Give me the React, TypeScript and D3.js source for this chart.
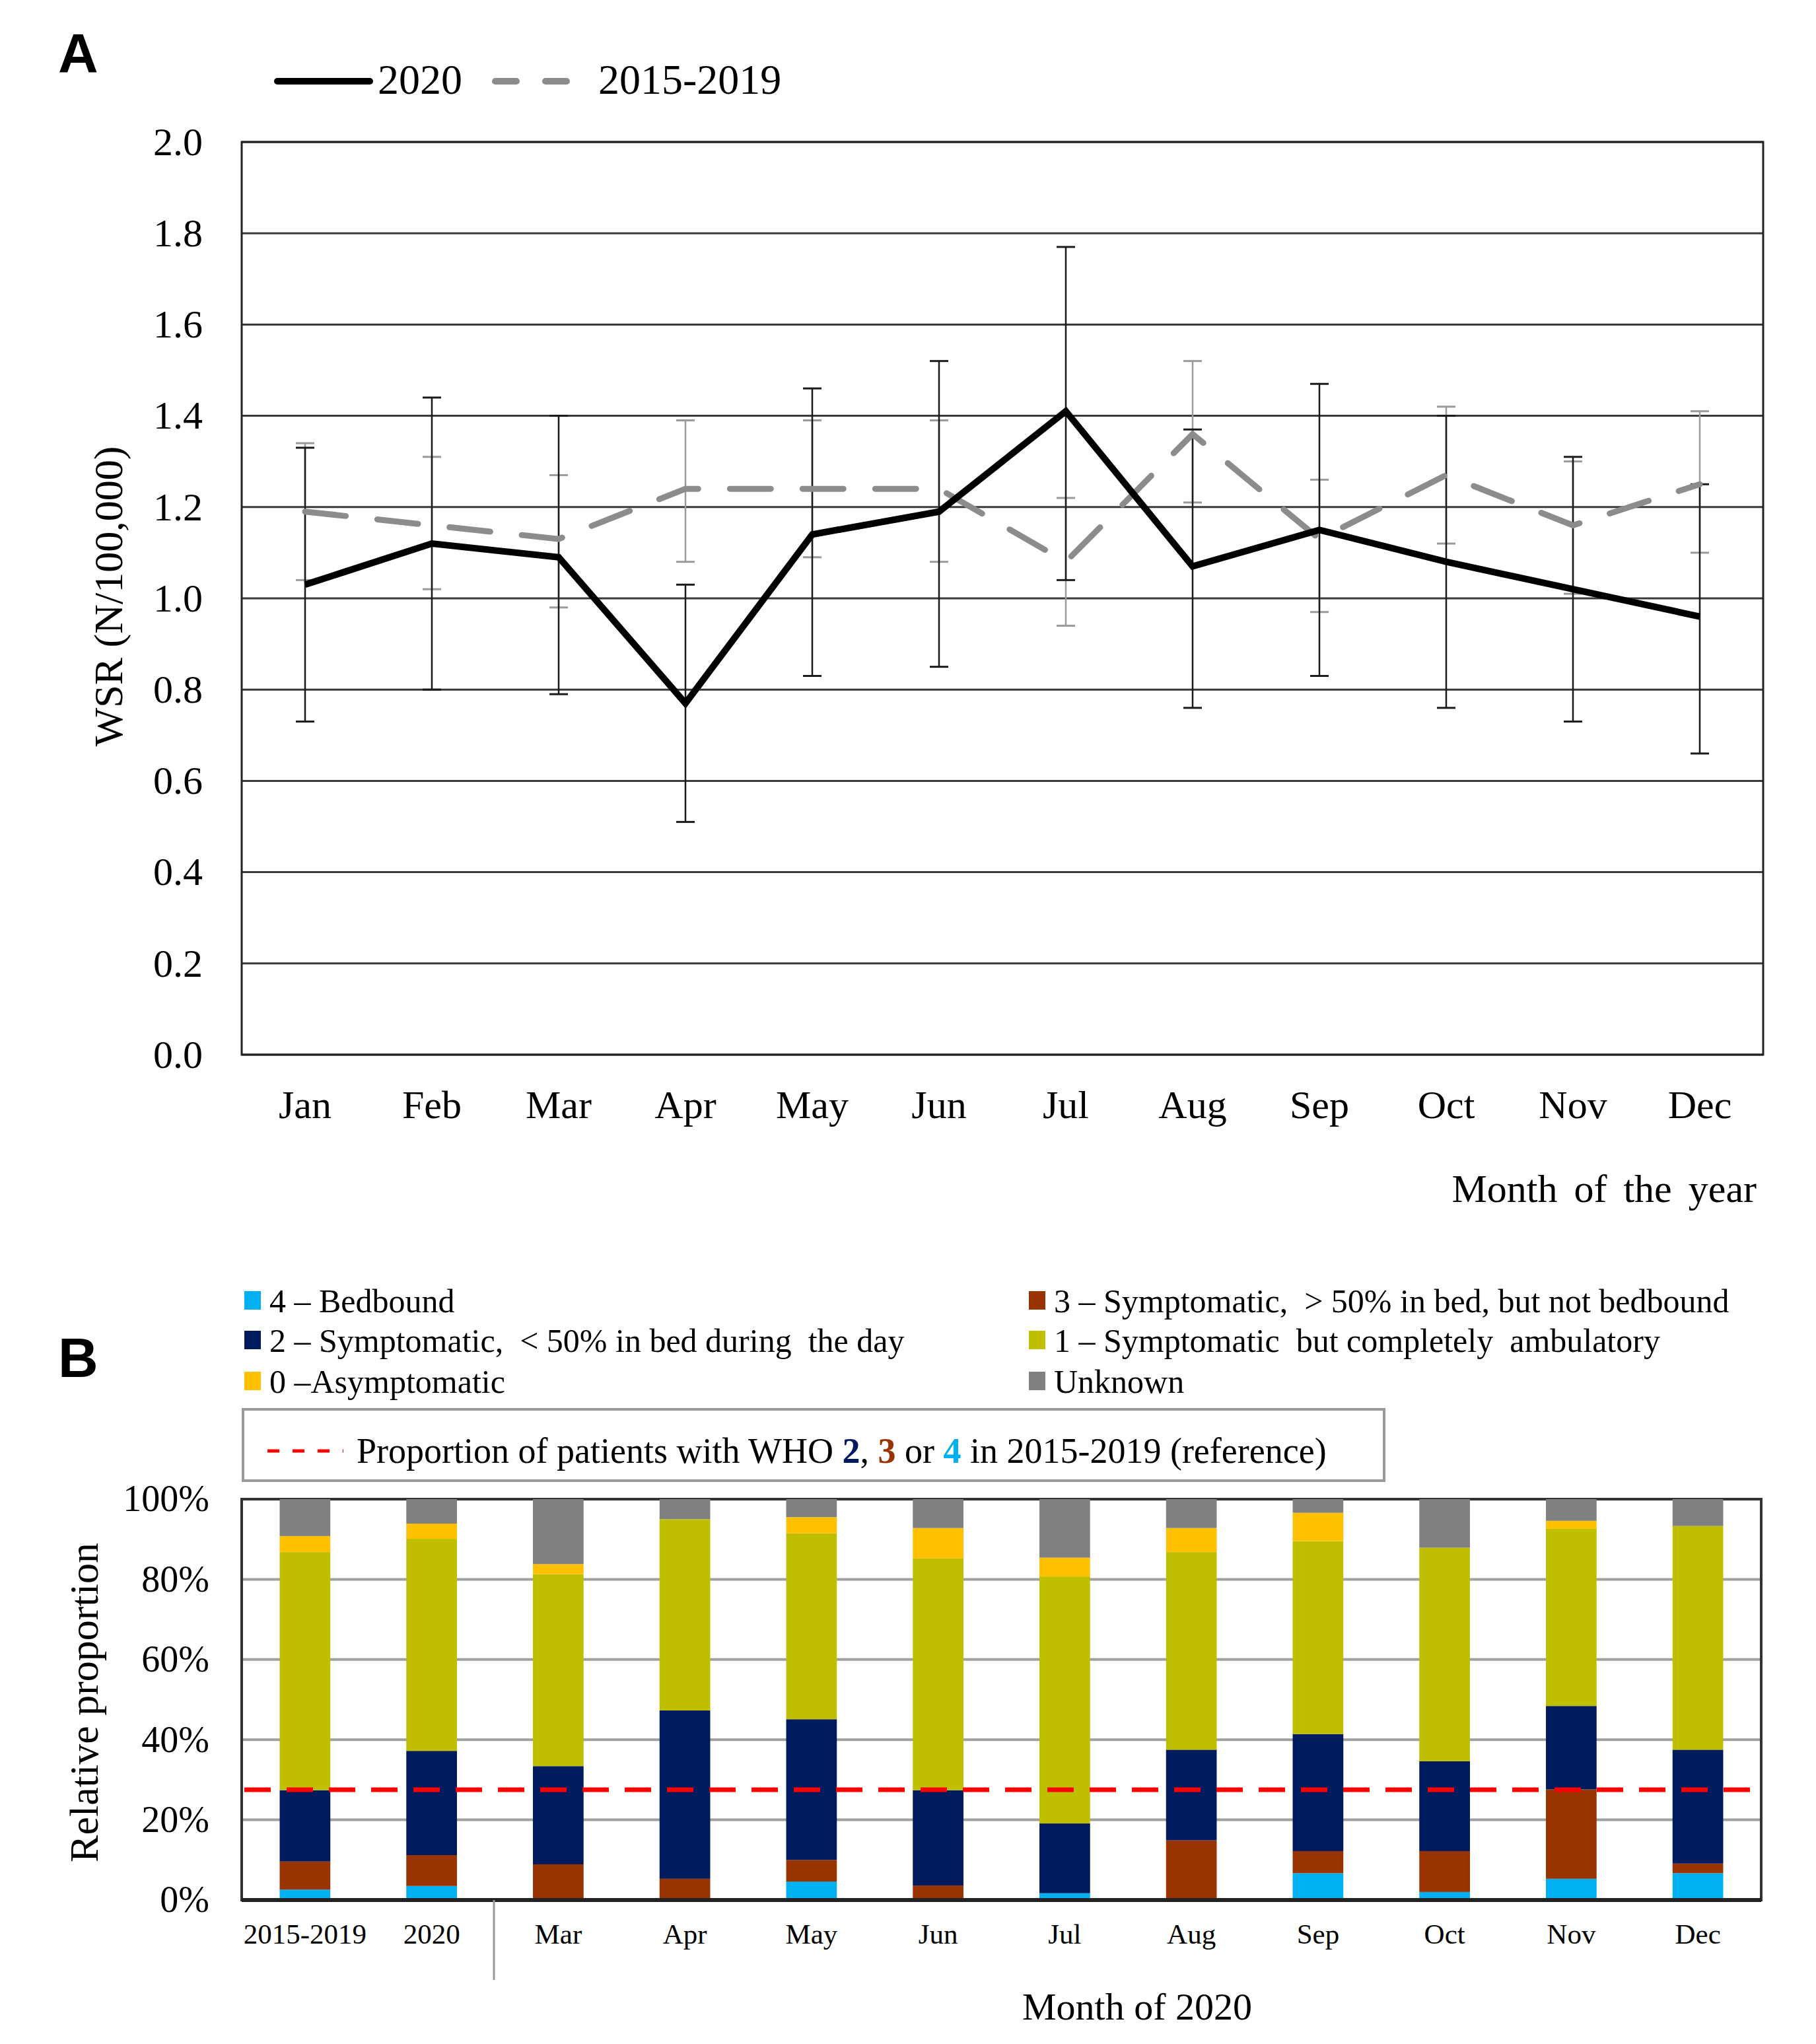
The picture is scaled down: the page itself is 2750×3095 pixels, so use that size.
import React, { useRef, useEffect } from 'react';
import * as d3 from 'd3';

// Panel A: weekly symptom rate per month
const months = ['Jan', 'Feb', 'Mar', 'Apr', 'May', 'Jun', 'Jul', 'Aug', 'Sep', 'Oct', 'Nov', 'Dec'];
const wsr2020 = [1.03, 1.12, 1.09, 0.77, 1.14, 1.19, 1.41, 1.07, 1.15, 1.08, 1.02, 0.96];
const wsr2020Low = [0.73, 0.80, 0.79, 0.51, 0.83, 0.85, 1.04, 0.76, 0.83, 0.76, 0.73, 0.66];
const wsr2020High = [1.33, 1.44, 1.40, 1.03, 1.46, 1.52, 1.77, 1.37, 1.47, 1.40, 1.31, 1.25];
const wsrRef = [1.19, 1.16, 1.13, 1.24, 1.24, 1.24, 1.08, 1.36, 1.13, 1.27, 1.16, 1.25];
const wsrRefLow = [1.04, 1.02, 0.98, 1.08, 1.09, 1.08, 0.94, 1.21, 0.97, 1.12, 1.01, 1.10];
const wsrRefHigh = [1.34, 1.31, 1.27, 1.39, 1.39, 1.39, 1.22, 1.52, 1.26, 1.42, 1.30, 1.41];
const yTicksA = [0, 0.2, 0.4, 0.6, 0.8, 1.0, 1.2, 1.4, 1.6, 1.8, 2.0];

// Panel B: WHO score distribution (%)
const categoriesB = ['2015-2019', '2020', 'Mar', 'Apr', 'May', 'Jun', 'Jul', 'Aug', 'Sep', 'Oct', 'Nov', 'Dec'];
const who4 = [2.6, 3.5, 0, 0, 4.6, 0, 1.7, 0, 6.7, 2.0, 5.3, 6.7];
const who3 = [7.0, 7.7, 8.9, 5.3, 5.4, 3.6, 0, 14.9, 5.5, 10.2, 22.3, 2.4];
const who2 = [17.8, 26.0, 24.5, 42.0, 35.1, 23.8, 17.4, 22.6, 29.2, 22.4, 20.8, 28.4];
const who1 = [59.4, 52.9, 47.9, 47.7, 46.4, 57.8, 61.6, 49.3, 48.1, 53.3, 44.2, 55.8];
const who0 = [4.0, 3.8, 2.5, 0, 4.0, 7.6, 4.7, 6.0, 7.1, 0, 2.0, 0];
const unknown = [9.2, 6.1, 16.2, 5.0, 4.5, 7.2, 14.6, 7.2, 3.4, 12.1, 5.4, 6.7];
const referenceLine = 27.5;
const yTicksB = [0, 20, 40, 60, 80, 100];

const serif = '"Liberation Serif", "Times New Roman", serif';
const sans = '"Liberation Sans", Arial, sans-serif';

const seriesKeys = ['who4', 'who3', 'who2', 'who1', 'who0', 'unknown'];
const seriesColors: Record<string, string> = {
    who4: '#00B0F0',
    who3: '#993300',
    who2: '#001A5E',
    who1: '#BFBF00',
    who0: '#FFC000',
    unknown: '#808080',
};

const drawPanelA = (svg: d3.Selection<SVGSVGElement, unknown, null, undefined>) => {
    const left = 366, right = 2670, top = 215, bottom = 1597;
    const g = svg.append('g');

    const x = d3.scaleBand().domain(months).range([left, right]);
    const cx = (m: string) => x(m)! + x.bandwidth() / 2;
    const y = d3.scaleLinear().domain([0, 2]).range([bottom, top]);

    // grid
    g.selectAll('.gridA')
        .data(yTicksA)
        .enter().append('line')
        .attr('x1', left).attr('x2', right)
        .attr('y1', d => y(d)).attr('y2', d => y(d))
        .attr('stroke', '#3a3a3a')
        .attr('stroke-width', 3);

    g.append('rect')
        .attr('x', left).attr('y', top)
        .attr('width', right - left).attr('height', bottom - top)
        .attr('fill', 'none')
        .attr('stroke', '#222')
        .attr('stroke-width', 3);

    // y axis labels
    const yAxis = g.append('g')
        .attr('transform', `translate(${left - 56},0)`)
        .call(d3.axisLeft(y).tickValues(yTicksA).tickFormat(d3.format('.1f')).tickSize(0));
    yAxis.select('.domain').remove();
    yAxis.attr('font-family', serif);
    yAxis.selectAll('text')
        .attr('font-family', serif)
        .attr('font-size', 60)
        .attr('fill', '#000')
        .attr('dx', 0);

    // x axis labels
    const xAxis = g.append('g')
        .attr('transform', `translate(0,${bottom + 50})`)
        .call(d3.axisBottom(x).tickSize(0));
    xAxis.select('.domain').remove();
    xAxis.attr('font-family', serif);
    xAxis.selectAll('text')
        .attr('font-family', serif)
        .attr('font-size', 60)
        .attr('fill', '#000');

    // error bars
    const errorBars = (lo: number[], hi: number[], color: string, cls: string) => {
        const eg = g.append('g').attr('class', cls);
        months.forEach((m, i) => {
            const xc = cx(m);
            eg.append('line')
                .attr('x1', xc).attr('x2', xc)
                .attr('y1', y(lo[i])).attr('y2', y(hi[i]))
                .attr('stroke', color).attr('stroke-width', 2.5);
            [lo[i], hi[i]].forEach(v => {
                eg.append('line')
                    .attr('x1', xc - 14).attr('x2', xc + 14)
                    .attr('y1', y(v)).attr('y2', y(v))
                    .attr('stroke', color).attr('stroke-width', 3);
            });
        });
    };
    errorBars(wsrRefLow, wsrRefHigh, '#9a9a9a', 'errRef');
    errorBars(wsr2020Low, wsr2020High, '#1a1a1a', 'err2020');

    const line = d3.line<number>()
        .x((_, i) => cx(months[i]))
        .y(d => y(d));

    g.append('path')
        .datum(wsrRef)
        .attr('d', line)
        .attr('fill', 'none')
        .attr('stroke', '#8c8c8c')
        .attr('stroke-width', 9)
        .attr('stroke-dasharray', '62,48')
        .attr('stroke-linecap', 'round');

    g.append('path')
        .datum(wsr2020)
        .attr('d', line)
        .attr('fill', 'none')
        .attr('stroke', '#000')
        .attr('stroke-width', 10)
        .attr('stroke-linejoin', 'miter');

    // titles
    g.append('text')
        .attr('transform', 'translate(185,903) rotate(-90)')
        .attr('text-anchor', 'middle')
        .attr('font-family', serif)
        .attr('font-size', 62)
        .text('WSR (N/100,000)');

    g.append('text')
        .attr('x', 2660).attr('y', 1820)
        .attr('text-anchor', 'end')
        .attr('font-family', serif)
        .attr('font-size', 60)
        .attr('word-spacing', 10)
        .text('Month of the year');

    g.append('text')
        .attr('x', 88).attr('y', 110)
        .attr('font-family', sans)
        .attr('font-weight', 'bold')
        .attr('font-size', 84)
        .text('A');

    // legend
    g.append('line')
        .attr('x1', 420).attr('x2', 560).attr('y1', 123).attr('y2', 123)
        .attr('stroke', '#000').attr('stroke-width', 10).attr('stroke-linecap', 'round');
    g.append('text')
        .attr('x', 572).attr('y', 142)
        .attr('font-family', serif).attr('font-size', 64)
        .text('2020');
    g.append('line')
        .attr('x1', 750).attr('x2', 860).attr('y1', 123).attr('y2', 123)
        .attr('stroke', '#8c8c8c').attr('stroke-width', 10)
        .attr('stroke-dasharray', '32,44').attr('stroke-linecap', 'round');
    g.append('text')
        .attr('x', 906).attr('y', 142)
        .attr('font-family', serif).attr('font-size', 64)
        .text('2015-2019');
};

const drawPanelB = (svg: d3.Selection<SVGSVGElement, unknown, null, undefined>) => {
    const left = 366, right = 2667, top = 2270, bottom = 2877;
    const g = svg.append('g');

    const x = d3.scaleBand().domain(categoriesB).range([left, right]).paddingInner(0.6).paddingOuter(0.3);
    const y = d3.scaleLinear().domain([0, 100]).range([bottom, top]);

    const rows = categoriesB.map((c, i) => ({
        cat: c,
        who4: who4[i], who3: who3[i], who2: who2[i], who1: who1[i], who0: who0[i], unknown: unknown[i],
    }));
    const stacked = d3.stack<any>().keys(seriesKeys)(rows);

    // grid
    g.selectAll('.gridB')
        .data(yTicksB.filter(t => t > 0 && t < 100))
        .enter().append('line')
        .attr('x1', left).attr('x2', right)
        .attr('y1', d => y(d)).attr('y2', d => y(d))
        .attr('stroke', '#a0a0a0')
        .attr('stroke-width', 4);

    g.append('rect')
        .attr('x', left).attr('y', top)
        .attr('width', right - left).attr('height', bottom - top)
        .attr('fill', 'none')
        .attr('stroke', '#333')
        .attr('stroke-width', 4);

    // bars
    stacked.forEach(layer => {
        g.append('g')
            .attr('fill', seriesColors[layer.key])
            .selectAll('rect')
            .data(layer)
            .enter().append('rect')
            .attr('x', d => x(d.data.cat)!)
            .attr('y', d => y(d[1]))
            .attr('width', x.bandwidth())
            .attr('height', d => y(d[0]) - y(d[1]));
    });

    g.append('line')
        .attr('x1', left).attr('x2', right)
        .attr('y1', bottom).attr('y2', bottom)
        .attr('stroke', '#222').attr('stroke-width', 6);

    // reference line
    g.append('line')
        .attr('x1', left + 4).attr('x2', right)
        .attr('y1', y(referenceLine)).attr('y2', y(referenceLine))
        .attr('stroke', '#FF0000')
        .attr('stroke-width', 7)
        .attr('stroke-dasharray', '40,24');

    // y axis labels
    const yAxis = g.append('g')
        .attr('transform', `translate(${left - 46},0)`)
        .call(d3.axisLeft(y).tickValues(yTicksB).tickFormat(d => `${d}%`).tickSize(0));
    yAxis.select('.domain').remove();
    yAxis.attr('font-family', serif);
    yAxis.selectAll('text')
        .attr('font-family', serif)
        .attr('font-size', 56)
        .attr('fill', '#000');

    // x axis labels
    const xAxis = g.append('g')
        .attr('transform', `translate(0,${bottom + 32})`)
        .call(d3.axisBottom(x).tickSize(0));
    xAxis.select('.domain').remove();
    xAxis.attr('font-family', serif);
    xAxis.selectAll('text')
        .attr('font-family', serif)
        .attr('font-size', 43)
        .attr('fill', '#000');

    // separator between summary and monthly bars
    g.append('line')
        .attr('x1', 748).attr('x2', 748)
        .attr('y1', bottom).attr('y2', 2998)
        .attr('stroke', '#999').attr('stroke-width', 3);

    g.append('text')
        .attr('transform', 'translate(148,2578) rotate(-90)')
        .attr('text-anchor', 'middle')
        .attr('font-family', serif)
        .attr('font-size', 62)
        .text('Relative proportion');

    g.append('text')
        .attr('x', 1722).attr('y', 3058)
        .attr('text-anchor', 'middle')
        .attr('font-family', serif)
        .attr('font-size', 58)
        .text('Month of 2020');

    g.append('text')
        .attr('x', 88).attr('y', 2085)
        .attr('font-family', sans)
        .attr('font-weight', 'bold')
        .attr('font-size', 84)
        .text('B');

    // legend
    const legendItems = [
        { key: 'who4', label: '4 – Bedbound', x: 370, y: 1955 },
        { key: 'who3', label: '3 – Symptomatic,  > 50% in bed, but not bedbound', x: 1558, y: 1955 },
        { key: 'who2', label: '2 – Symptomatic,  < 50% in bed during  the day', x: 370, y: 2015 },
        { key: 'who1', label: '1 – Symptomatic  but completely  ambulatory', x: 1558, y: 2015 },
        { key: 'who0', label: '0 –Asymptomatic', x: 370, y: 2077 },
        { key: 'unknown', label: 'Unknown', x: 1558, y: 2077 },
    ];
    legendItems.forEach(it => {
        g.append('rect')
            .attr('x', it.x).attr('y', it.y)
            .attr('width', 25).attr('height', 28)
            .attr('fill', seriesColors[it.key]);
        g.append('text')
            .attr('x', it.x + 38).attr('y', it.y + 32)
            .attr('font-family', serif)
            .attr('font-size', 50)
            .attr('xml:space', 'preserve')
            .style('white-space', 'pre')
            .text(it.label);
    });

    g.append('rect')
        .attr('x', 368).attr('y', 2134)
        .attr('width', 1728).attr('height', 108)
        .attr('fill', '#fff')
        .attr('stroke', '#9a9a9a')
        .attr('stroke-width', 4);
    g.append('line')
        .attr('x1', 405).attr('x2', 520)
        .attr('y1', 2197).attr('y2', 2197)
        .attr('stroke', '#FF0000').attr('stroke-width', 5)
        .attr('stroke-dasharray', '18,20');
    const t = g.append('text')
        .attr('x', 540).attr('y', 2215)
        .attr('font-family', serif)
        .attr('font-size', 54);
    t.append('tspan').text('Proportion of patients with WHO ');
    t.append('tspan').attr('fill', seriesColors.who2).attr('font-weight', 'bold').text('2');
    t.append('tspan').text(', ');
    t.append('tspan').attr('fill', seriesColors.who3).attr('font-weight', 'bold').text('3');
    t.append('tspan').text(' or ');
    t.append('tspan').attr('fill', seriesColors.who4).attr('font-weight', 'bold').text('4');
    t.append('tspan').text(' in 2015-2019 (reference)');
};

const App: React.FC = () => {
    const ref = useRef<SVGSVGElement>(null);

    useEffect(() => {
        if (!ref.current) return;
        const svg = d3.select(ref.current);
        svg.selectAll('*').remove();
        svg.append('rect').attr('width', 2750).attr('height', 3095).attr('fill', '#fff');
        drawPanelA(svg);
        drawPanelB(svg);
    }, []);

    return (
        <svg
            ref={ref}
            width={2750}
            height={3095}
            style={{ position: 'absolute', left: 0, top: 0 }}
        />
    );
};

export default App;
